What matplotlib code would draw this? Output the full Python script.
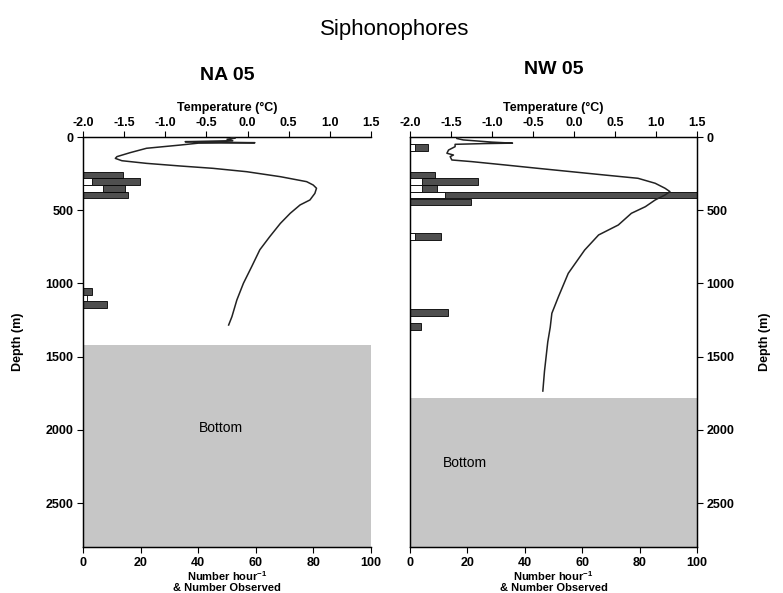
import matplotlib
matplotlib.use("Agg")
import matplotlib.pyplot as plt
import numpy as np

plt.rcParams['font.family'] = ['Liberation Sans', 'DejaVu Sans']

# ---- data ----
# NA 05
na_bar_depth = [260, 305, 350, 395, 1055, 1100, 1145]
na_rate = [13.8, 19.8, 14.6, 15.4, 2.9, 0, 8.1]
na_obs = [0, 3, 7, 0, 0, 1.2, 0]
na_temp_depth = [0, 8, 15, 25, 32, 36, 39, 42, 55, 77, 107, 134, 146, 162, 180, 198, 214, 237, 271, 305,
                 328, 350, 385, 430, 464, 521, 590, 681, 770, 886, 999, 1113, 1227, 1284]
na_temp = [-0.20, -0.15, -0.25, -0.18, -0.76, -0.30, 0.09, -0.60, -0.82, -1.23, -1.43, -1.59, -1.61, -1.53,
           -1.23, -0.82, -0.42, -0.01, 0.40, 0.72, 0.80, 0.84, 0.82, 0.76, 0.64, 0.52, 0.40, 0.27, 0.15,
           0.05, -0.05, -0.13, -0.19, -0.23]
na_bottom = 1420

# NW 05
nw_bar_depth = [70, 260, 305, 350, 395, 445, 678, 1197, 1293]
nw_rate = [6.2, 8.7, 23.6, 9.3, 100, 21.2, 10.8, 13.3, 3.8]
nw_obs = [1.7, 0, 4.1, 4.1, 12.2, 0, 1.7, 0, 0]
nw_temp_depth = [0, 10, 20, 35, 42, 45, 50, 66, 89, 111, 123, 134, 157, 168, 191, 214, 237, 260, 282, 316,
                 350, 373, 396, 430, 476, 521, 601, 669, 772, 931, 1091, 1204, 1300, 1400, 1500, 1600, 1735]
nw_temp = [-1.40, -1.43, -1.35, -1.00, -0.75, -1.10, -1.45, -1.45, -1.53, -1.55, -1.47, -1.51, -1.49, -1.25,
           -0.84, -0.44, -0.03, 0.38, 0.78, 0.99, 1.11, 1.17, 1.11, 0.99, 0.87, 0.70, 0.54, 0.30, 0.13,
           -0.07, -0.19, -0.27, -0.29, -0.32, -0.34, -0.36, -0.38]
nw_bottom = 1780

x_ticks = [0, 20, 40, 60, 80, 100]
y_ticks = [0, 500, 1000, 1500, 2000, 2500]
t_ticks = [-2.0, -1.5, -1.0, -0.5, 0.0, 0.5, 1.0, 1.5]

fig = plt.figure(figsize=(7.83, 5.93), dpi=100)
W, H = 783, 593

def make_panel(x0, x1, name, name_y, bdepth, rate, obs, tdepth, temp, bottom, bottom_text_x, bottom_text_y, side):
    ax = fig.add_axes([x0 / W, 1 - 547 / H, (x1 - x0) / W, (547 - 137) / H])
    ax.set_xlim(0, 100)
    ax.set_ylim(2800, 0)
    ax.axhspan(bottom, 2800, color='#c6c6c6', lw=0, zorder=0)
    ax.barh(bdepth, rate, height=45, color='#4f4f4f', edgecolor='black', linewidth=0.6, zorder=2)
    ax.barh(bdepth, obs, height=45, color='white', edgecolor='black', linewidth=0.6, zorder=3)
    ax.text(bottom_text_x, bottom_text_y, 'Bottom', ha='center', va='center', fontsize=10)
    ax.set_xticks(x_ticks)
    ax.set_xticklabels([str(v) for v in x_ticks], fontsize=9, fontweight='bold')
    ax.set_yticks(y_ticks)
    ax.set_yticklabels([str(v) for v in y_ticks], fontsize=9, fontweight='bold')
    ax.tick_params(direction='out', length=4, width=0.8, pad=3)
    if side == 'left':
        ax.spines['right'].set_visible(False)
        fig.text(18 / W, 1 - 342 / H, 'Depth (m)', rotation=90, ha='center', va='center',
                 fontsize=9, fontweight='bold')
    else:
        ax.yaxis.tick_right()
        fig.text(765 / W, 1 - 342 / H, 'Depth (m)', rotation=90, ha='center', va='center',
                 fontsize=9, fontweight='bold')
    for s in ax.spines.values():
        s.set_linewidth(0.9)
    cx = (x0 + x1) / 2 / W
    fig.text(cx, 1 - 576 / H, 'Number hour$^{\\mathregular{-1}}$', ha='center', va='center',
             fontsize=8, fontweight='bold')
    fig.text(cx, 1 - 588 / H, '& Number Observed', ha='center', va='center',
             fontsize=8, fontweight='bold')

    tx = ax.twiny()
    tx.set_xlim(-2.0, 1.5)
    tx.set_ylim(2800, 0)
    tx.plot(temp, tdepth, color='#222222', lw=1.1, zorder=4)
    tx.set_xticks(t_ticks)
    tx.set_xticklabels(['%.1f' % v for v in t_ticks], fontsize=9, fontweight='bold')
    tx.set_xlabel('Temperature (\u00b0C)', fontsize=9, fontweight='bold', labelpad=4)
    tx.tick_params(direction='out', length=4, width=0.8, pad=2)
    if side == 'left':
        tx.spines['right'].set_visible(False)
    for s in tx.spines.values():
        s.set_linewidth(0.9)
    fig.text(cx, 1 - name_y / H, name, ha='center', va='center',
             fontsize=14, fontweight='bold')
    return ax

make_panel(83.3, 370.7, 'NA 05', 75, na_bar_depth, na_rate, na_obs, na_temp_depth, na_temp,
           na_bottom, 48, 1990, 'left')
make_panel(410, 697, 'NW 05', 70, nw_bar_depth, nw_rate, nw_obs, nw_temp_depth, nw_temp,
           nw_bottom, 19, 2225, 'right')

fig.text(395 / W, 1 - 30 / H, 'Siphonophores', ha='center', va='center', fontsize=16)

fig.savefig('out.png', dpi=100)
